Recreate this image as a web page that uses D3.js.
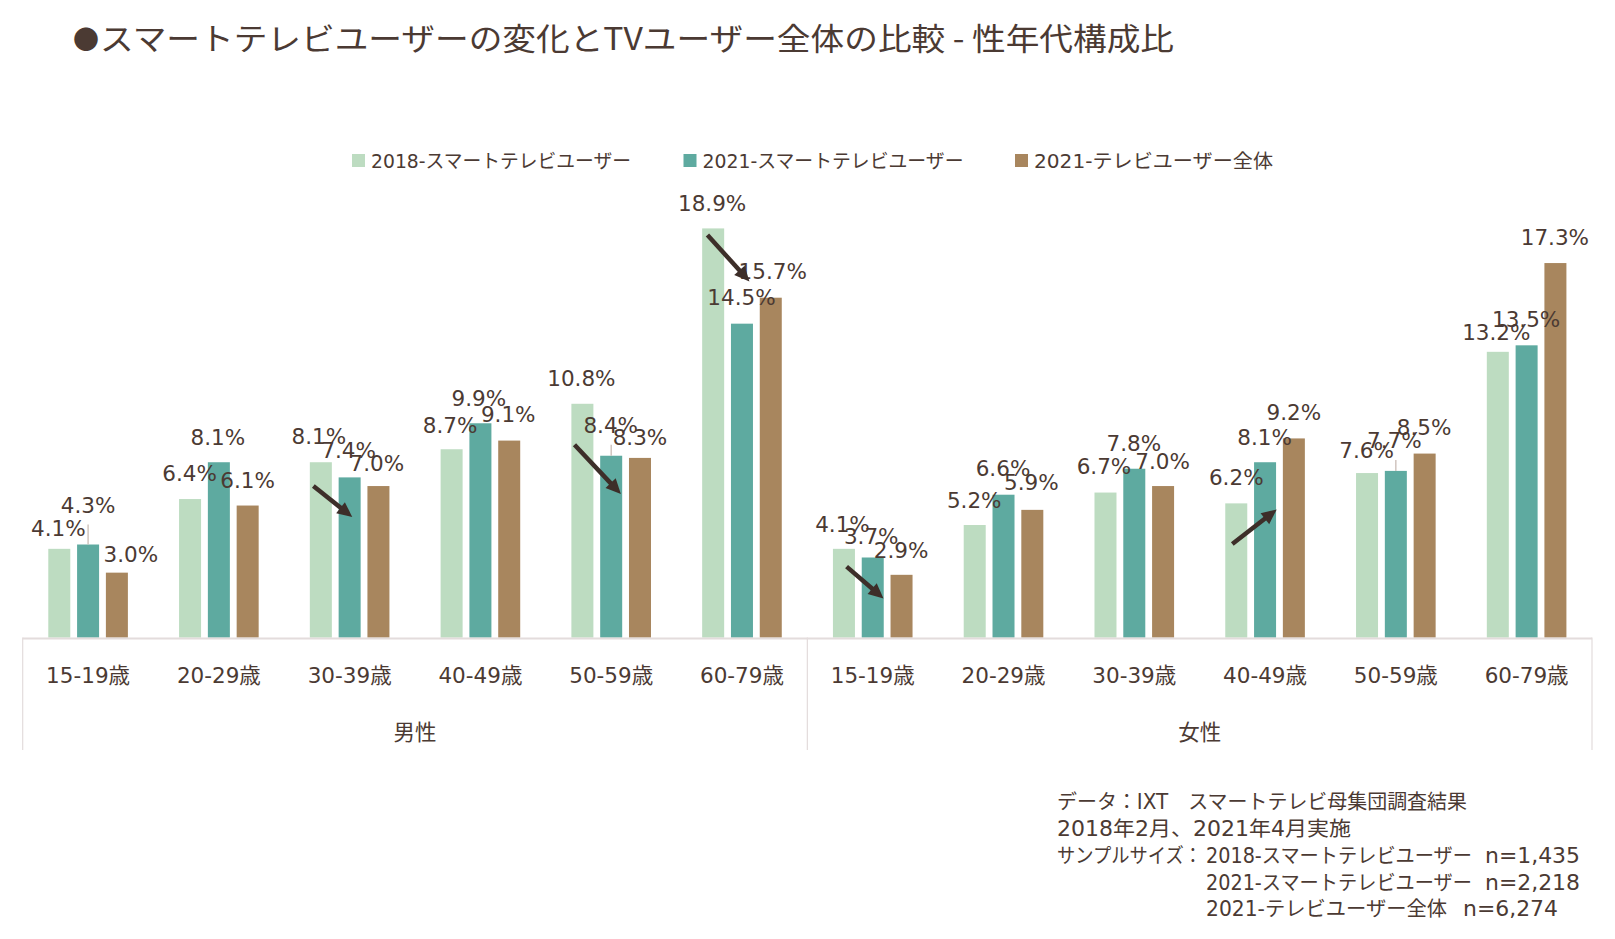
<!DOCTYPE html>
<html><head><meta charset="utf-8">
<script src="https://cdn.jsdelivr.net/npm/d3@7"></script>
<style>
body{margin:0;background:#fff;}
svg text{fill:#4b3a33;font-family:"DejaVu Sans","Noto Sans CJK JP",sans-serif;}
</style>
</head><body><svg id="c" width="1615" height="939"></svg>
<script>
// ---------- data ----------
const titleMark = "●";
const title = "スマートテレビユーザーの変化とTVユーザー全体の比較 - 性年代構成比";
const genders = ["男性", "女性"];
const ageGroups = ["15-19歳", "20-29歳", "30-39歳", "40-49歳", "50-59歳", "60-79歳"];
const seriesNames = ["2018-スマートテレビユーザー", "2021-スマートテレビユーザー", "2021-テレビユーザー全体"];
const smart2018 = [4.1, 6.4, 8.1, 8.7, 10.8, 18.9, 4.1, 5.2, 6.7, 6.2, 7.6, 13.2];
const smart2021 = [4.3, 8.1, 7.4, 9.9, 8.4, 14.5, 3.7, 6.6, 7.8, 8.1, 7.7, 13.5];
const tvAll2021 = [3.0, 6.1, 7.0, 9.1, 8.3, 15.7, 2.9, 5.9, 7.0, 9.2, 8.5, 17.3];
const footSource = "データ：IXT　スマートテレビ母集団調査結果";
const footPeriod = "2018年2月、2021年4月実施";
const footSampleHead = "サンプルサイズ：";
const sampleSizes = ["n=1,435", "n=2,218", "n=6,274"];

// ---------- layout / style (not data) ----------
const colors = ["#bddcc1", "#5eaaa0", "#a8865e"];
const textColor = "#4b3a33";
const arrowColor = "#3d2e29";
// label nudges [dx, dy] relative to bar centre / bar top
const labelNudge = [
  [[-1,-20.5],[-0.5,-25.5],[-2,-25.5],[-1.5,-24],[-1,-25],[-1,-25],[-1.5,-24.5],[-0.5,-24.4],[-1.5,-26.5],[0,-25.7],[-0.5,-23],[-1.5,-19]],
  [[0,-39],[-1,-25],[-1,-26.7],[-1.5,-25],[-0.5,-30],[-0.5,-26.4],[-1.5,-21],[-0.5,-26],[-0.5,-25.5],[-0.5,-24.5],[-1.5,-30],[-0.5,-26]],
  [[14,-18.5],[0,-25.5],[-1.5,-22.7],[-1,-26.3],[0,-20.5],[2,-26],[-0.5,-24.8],[-1,-27],[-0.5,-24.7],[0,-26],[-0.5,-26.3],[-0.5,-25.8]]
];
const leaderLabels = [[1,0],[1,4],[1,10]];
// arrows: category index, [series, bar-width offset, value] start / end
const arrows = [
  {cat:2, from:[0,-0.34,7.0], to:[1,0.12,5.57]},
  {cat:4, from:[0,-0.36,8.91], to:[1,0.44,6.63]},
  {cat:5, from:[0,-0.26,18.6], to:[1,0.34,16.45]},
  {cat:6, from:[0,0.12,3.28], to:[1,0.49,1.81]},
  {cat:9, from:[0,-0.18,4.32], to:[1,0.53,5.92]}
];

const series = [smart2018, smart2021, tvAll2021];
const keys = genders.flatMap(g => ageGroups.map(a => g + "|" + a));

const svg = d3.select("#c");
const baseY = 637.6;
const x0 = d3.scaleBand().domain(keys).range([22.7, 1592]).paddingInner(0).paddingOuter(0);
const groupW = 79.6;
const x1 = d3.scaleBand().domain(d3.range(series.length)).range([0, groupW]).paddingInner(0.236).paddingOuter(0);
const y = d3.scaleLinear().domain([0, 20]).range([baseY, baseY - 433]);
const gOff = (x0.bandwidth() - groupW) / 2;
const barX = (i, s) => x0(keys[i]) + gOff + x1(s);
const barC = (i, s) => barX(i, s) + x1.bandwidth() / 2;

// title
svg.append("text").attr("x", 73).attr("y", 37).attr("dominant-baseline", "central")
  .style("font-family", '"Noto Sans CJK JP",sans-serif').style("font-size", "26px").text(titleMark);
svg.append("text").attr("x", 100).attr("y", 36).attr("dominant-baseline", "central")
  .style("font-family", '"Noto Sans CJK JP",sans-serif').style("font-size", "31px")
  .attr("textLength", 1074).attr("lengthAdjust", "spacingAndGlyphs").text(title);

// legend
const leg = svg.append("g");
const legLen = [260, 261, 239];
seriesNames.forEach((n, i) => {
  const lx = 352 + 331.5 * i;
  leg.append("rect").attr("x", lx).attr("y", 154).attr("width", 13).attr("height", 13).attr("fill", colors[i]);
  leg.append("text").attr("x", lx + 19).attr("y", 160.5).attr("dominant-baseline", "central")
    .style("font-size", "19px").attr("textLength", legLen[i]).attr("lengthAdjust", "spacingAndGlyphs").text(n);
});

// bars
series.forEach((vals, s) => {
  svg.append("g").selectAll("rect").data(vals).join("rect")
    .attr("x", (d, i) => barX(i, s)).attr("width", x1.bandwidth())
    .attr("y", d => y(d)).attr("height", d => baseY - y(d)).attr("fill", colors[s]);
});

// leader lines
leaderLabels.forEach(([s, i]) => {
  const v = series[s][i];
  svg.append("line").attr("x1", barC(i, s)).attr("x2", barC(i, s))
    .attr("y1", y(v) + labelNudge[s][i][1] + 19).attr("y2", y(v))
    .attr("stroke", "#c9bcb5").attr("stroke-width", 1.3);
});

// data labels
series.forEach((vals, s) => {
  svg.append("g").selectAll("text").data(vals).join("text")
    .attr("x", (d, i) => barC(i, s) + labelNudge[s][i][0])
    .attr("y", (d, i) => y(d) + labelNudge[s][i][1])
    .attr("text-anchor", "middle").attr("dominant-baseline", "central")
    .style("font-size", "21.5px").text(d => d.toFixed(1) + "%");
});

// arrows
arrows.forEach(a => {
  const bw = x1.bandwidth();
  const sx = barC(a.cat, a.from[0]) + a.from[1] * bw, sy = y(a.from[2]);
  const ex = barC(a.cat, a.to[0]) + a.to[1] * bw, ey = y(a.to[2]);
  const ang = Math.atan2(ey - sy, ex - sx);
  const hl = 15, hw = 7;
  const bx = ex - hl * Math.cos(ang), by = ey - hl * Math.sin(ang);
  svg.append("line").attr("x1", sx).attr("y1", sy).attr("x2", bx + Math.cos(ang)).attr("y2", by + Math.sin(ang))
    .attr("stroke", arrowColor).attr("stroke-width", 4.5);
  const px = -Math.sin(ang), py = Math.cos(ang);
  svg.append("path").attr("d", `M${ex},${ey}L${bx + px * hw},${by + py * hw}L${bx - px * hw},${by - py * hw}Z`)
    .attr("fill", arrowColor);
});

// axis frame
const axisColor = "#e3dcdc";
svg.append("line").attr("x1", x0.range()[0]).attr("x2", x0.range()[1]).attr("y1", baseY + 1).attr("y2", baseY + 1)
  .attr("stroke", axisColor).attr("stroke-width", 2);
const bounds = [x0(keys[0]), x0(keys[ageGroups.length]), x0.range()[1]];
bounds.forEach(bx => svg.append("line").attr("x1", bx).attr("x2", bx).attr("y1", baseY).attr("y2", 750)
  .attr("stroke", axisColor).attr("stroke-width", 1.2));

const ax = svg.append("g").attr("transform", `translate(0,${baseY})`)
  .call(d3.axisBottom(x0).tickSize(0).tickFormat(k => k.split("|")[1]));
ax.select(".domain").remove();
ax.selectAll("text").attr("y", 38).attr("dy", null).attr("dominant-baseline", "central")
  .style("font-size", "21.5px").style("fill", textColor)
  .style("font-family", '"DejaVu Sans","Noto Sans CJK JP",sans-serif');

genders.forEach((g, gi) => {
  svg.append("text").attr("x", (bounds[gi] + bounds[gi + 1]) / 2).attr("y", 732)
    .attr("text-anchor", "middle").attr("dominant-baseline", "central")
    .style("font-size", "21.5px").text(g);
});

// footnote
const fx = 1057, fx2 = 1206;
const fy = [802, 829, 856, 883, 909];
const foot = svg.append("g").style("font-size", "20.5px");
const fText = (x, yy, t, len) => foot.append("text").attr("x", x).attr("y", yy).attr("dominant-baseline", "central")
  .attr("textLength", len).attr("lengthAdjust", "spacingAndGlyphs").text(t);
fText(fx, fy[0], footSource, 410);
fText(fx, fy[1], footPeriod, 294);
fText(fx, fy[2], footSampleHead, 145);
const nameLen = [266, 266, 241];
const nX = [1485, 1485, 1463];
seriesNames.forEach((n, i) => {
  fText(fx2, fy[2 + i], n, nameLen[i]);
  fText(nX[i], fy[2 + i], sampleSizes[i], 95);
});
</script>
</body></html>
